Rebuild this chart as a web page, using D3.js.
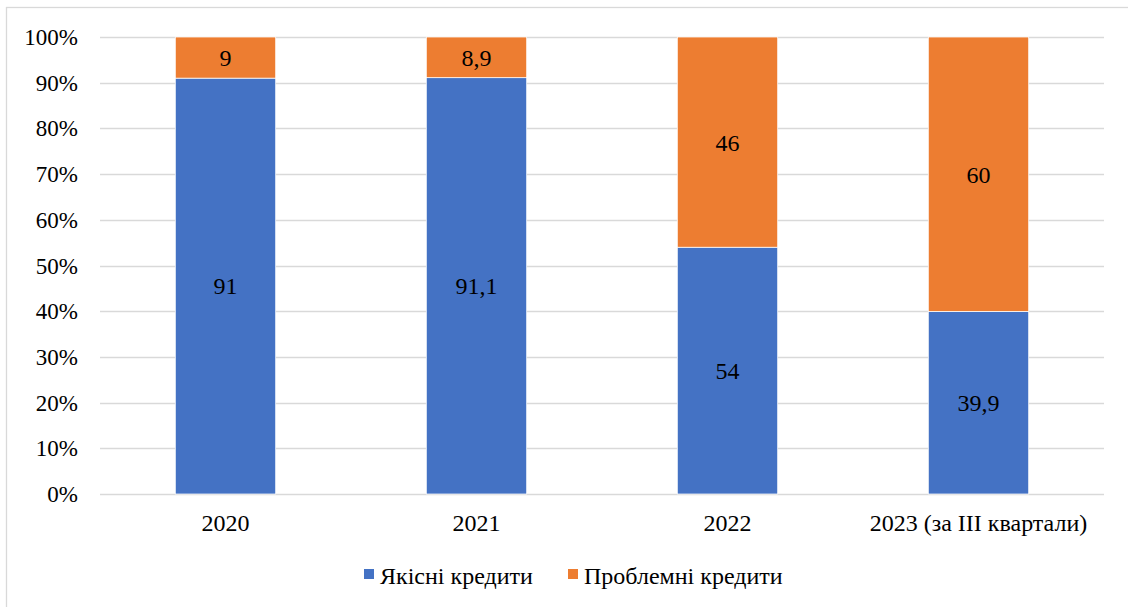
<!DOCTYPE html>
<html>
<head>
<meta charset="utf-8">
<script src="https://cdn.jsdelivr.net/npm/d3@7"></script>
<style>
  body { margin: 0; background: #fff; }
  svg text { font-family: "Liberation Serif", "DejaVu Serif", serif; fill: #000; }
</style>
</head>
<body>
<div id="chart"></div>
<script>
// data
var years = ["2020", "2021", "2022", "2023 (за III квартали)"];
var goodLoans = [91, 91.1, 54, 39.9];
var badLoans = [9, 8.9, 46, 60];
var seriesNames = ["Якісні кредити", "Проблемні кредити"];
var seriesColors = ["#4472C4", "#ED7D31"];
var yTicks = [0, 0.1, 0.2, 0.3, 0.4, 0.5, 0.6, 0.7, 0.8, 0.9, 1];

var W = 1128, H = 607;
var plotLeft = 100, plotRight = 1104, plotTop = 37, plotBottom = 494;
var fontSize = "24px";
var serif = "'Liberation Serif', 'DejaVu Serif', serif";

var svg = d3.select("#chart").append("svg")
    .attr("width", W)
    .attr("height", H)
    .attr("font-family", serif);

// chart border
svg.append("rect")
   .attr("x", 6.5).attr("y", 7.5)
   .attr("width", W + 10).attr("height", H + 10)
   .attr("fill", "none")
   .attr("stroke", "#D9D9D9")
   .attr("stroke-width", 1.3);

var x = d3.scaleBand().domain(years).range([plotLeft, plotRight]).paddingInner(0.6).paddingOuter(0.3);
var y = d3.scaleLinear().domain([0, 1]).range([plotBottom, plotTop]);

// gridlines
svg.append("g")
   .selectAll("line")
   .data(yTicks)
   .enter().append("line")
   .attr("x1", plotLeft).attr("x2", plotRight)
   .attr("y1", function(d) { return Math.round(y(d)) + 0.5; })
   .attr("y2", function(d) { return Math.round(y(d)) + 0.5; })
   .attr("stroke", "#D9D9D9")
   .attr("stroke-width", 1.3);

// y axis labels
svg.append("g")
   .selectAll("text")
   .data(yTicks)
   .enter().append("text")
   .attr("x", 78)
   .attr("y", function(d) { return y(d); })
   .attr("dy", "0.35em")
   .attr("text-anchor", "end")
   .attr("font-family", serif)
   .attr("font-size", "23px")
   .text(d3.format(".0%"));

// stack, normalised to 100%
var table = years.map(function(yr, i) {
  var total = goodLoans[i] + badLoans[i];
  return { year: yr, good: goodLoans[i] / total, bad: badLoans[i] / total,
           goodRaw: goodLoans[i], badRaw: badLoans[i] };
});
var stack = d3.stack().keys(["good", "bad"])(table);
var fmt = function(v) { return String(v).replace(".", ","); };

stack.forEach(function(layer, k) {
  var g = svg.append("g");
  g.selectAll("rect")
   .data(layer)
   .enter().append("rect")
   .attr("x", function(d) { return x(d.data.year); })
   .attr("y", function(d) { return y(d[1]); })
   .attr("width", x.bandwidth())
   .attr("height", function(d) { return y(d[0]) - y(d[1]); })
   .attr("fill", seriesColors[k])
   .attr("stroke", "#fff")
   .attr("stroke-width", 0.75);

  g.selectAll("text")
   .data(layer)
   .enter().append("text")
   .attr("x", function(d) { return x(d.data.year) + x.bandwidth() / 2; })
   .attr("y", function(d) { return y((d[0] + d[1]) / 2); })
   .attr("dy", "0.35em")
   .attr("text-anchor", "middle")
   .attr("font-family", serif)
   .attr("font-size", fontSize)
   .text(function(d) { return fmt(k === 0 ? d.data.goodRaw : d.data.badRaw); });
});

// x axis labels
svg.append("g")
   .selectAll("text")
   .data(years)
   .enter().append("text")
   .attr("x", function(d) { return x(d) + x.bandwidth() / 2; })
   .attr("y", 531)
   .attr("text-anchor", "middle")
   .attr("font-family", serif)
   .attr("font-size", fontSize)
   .text(function(d) { return d; });

// legend
var legendX = [364, 568];
var lg = svg.append("g");
seriesNames.forEach(function(name, i) {
  lg.append("rect")
    .attr("x", legendX[i]).attr("y", 569)
    .attr("width", 10).attr("height", 10)
    .attr("fill", seriesColors[i]);
  lg.append("text")
    .attr("x", legendX[i] + 16).attr("y", 584)
    .attr("font-family", serif)
    .attr("font-size", fontSize)
    .text(name);
});
</script>
</body>
</html>
